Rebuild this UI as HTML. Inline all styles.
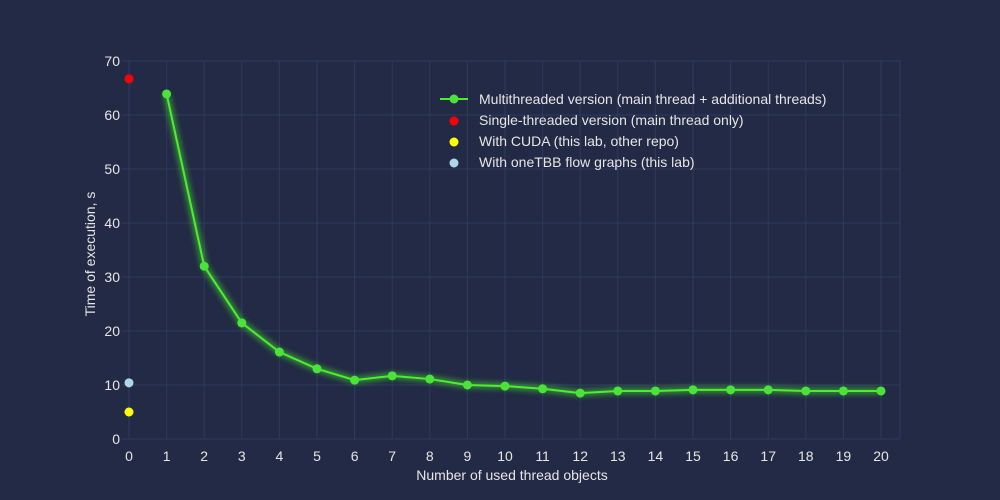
<!DOCTYPE html>
<html><head><meta charset="utf-8"><style>
html,body{margin:0;padding:0;background:#222a45;}
svg{display:block;font-family:"Liberation Sans",sans-serif;}
</style></head><body>
<svg id="chart" width="1000" height="500"></svg>
<script>
const xCategories=[1,2,3,4,5,6,7,8,9,10,11,12,13,14,15,16,17,18,19,20];
const multiValues=[63.9,32.0,21.5,16.1,13.0,10.9,11.7,11.1,10.0,9.8,9.3,8.5,8.9,8.9,9.1,9.1,9.1,8.9,8.9,8.9];
const singleValue=[66.7];
const cudaValue=[5.0];
const tbbValue=[10.4];
const xTicks=[0,1,2,3,4,5,6,7,8,9,10,11,12,13,14,15,16,17,18,19,20];
const yTicks=[0,10,20,30,40,50,60,70];

const NS="http://www.w3.org/2000/svg";
const svg=document.getElementById('chart');
const X=v=>129+v*37.6;
const Y=v=>439-v*5.4;
function mk(t,a,p){const e=document.createElementNS(NS,t);for(const k in a)e.setAttribute(k,a[k]);(p||svg).appendChild(e);return e;}
const defs=mk('defs',{});
const f=mk('filter',{id:'glow',x:'-20%',y:'-20%',width:'140%',height:'140%'},defs);
mk('feGaussianBlur',{stdDeviation:'3'},f);

xTicks.forEach(t=>{
  const l=mk('line',{x1:X(t),x2:X(t),y1:61,y2:439,stroke:'#2f3a5e','stroke-width':1});
  
  
  const tx=mk('text',{x:X(t),y:461,fill:'#e6e6e6','font-size':14,'text-anchor':'middle'});
  tx.textContent=t;
  
  
});
const right=mk('line',{x1:900,x2:900,y1:61,y2:439,stroke:'#2f3a5e'});


yTicks.forEach(t=>{
  const l=mk('line',{x1:122,x2:900,y1:Y(t),y2:Y(t),stroke:'#2f3a5e','stroke-width':1});
  
  
  const tx=mk('text',{x:120,y:Y(t)+5,fill:'#e6e6e6','font-size':14,'text-anchor':'end'});
  tx.textContent=t;
  
  
});
const xt=mk('text',{x:512,y:480,fill:'#e6e6e6','font-size':14,'text-anchor':'middle'});
xt.textContent='Number of used thread objects';


const yt=mk('text',{x:95,y:254,fill:'#e6e6e6','font-size':14,'text-anchor':'middle',transform:'rotate(-90 95 254)'});
yt.textContent='Time of execution, s';



const pts=xCategories.map((c,i)=>X(c)+','+Y(multiValues[i])).join(' ');
const glow=mk('polyline',{points:pts,fill:'none',stroke:'#4cff2a','stroke-width':6,opacity:0.5,filter:'url(#glow)'});


const line=mk('polyline',{points:pts,fill:'none',stroke:'#4cf02a','stroke-width':2});


xCategories.forEach((c,i)=>{
  const p=mk('circle',{cx:X(c),cy:Y(multiValues[i]),r:4.5,fill:'#4be33a'});
  
  
});
[[singleValue,'#ff0000','single-threaded-point'],[cudaValue,'#ffff00','cuda-point'],[tbbValue,'#add8e6','onetbb-point']].forEach(([arr,col,name])=>{
  const p=mk('circle',{cx:X(0),cy:Y(arr[0]),r:4.5,fill:col});
  
  
});

const legend=[['Multithreaded version (main thread + additional threads)','#4be33a',true],['Single-threaded version (main thread only)','#ff0000',false],['With CUDA (this lab, other repo)','#ffff00',false],['With oneTBB flow graphs (this lab)','#add8e6',false]];
const lg=mk('g',{});


legend.forEach(([lab,col,ln],i)=>{
  const y=99+i*21;
  const g=mk('g',{},lg);
  
  
  if(ln)mk('line',{x1:440,x2:468,y1:y,y2:y,stroke:'#4cf02a','stroke-width':2},g);
  mk('circle',{cx:454,cy:y+(ln?0:1),r:4.5,fill:col},g);
  const t=mk('text',{x:479,y:y+5,fill:'#e6e6e6','font-size':14},g);
  t.textContent=lab;
});
</script>
</body></html>
